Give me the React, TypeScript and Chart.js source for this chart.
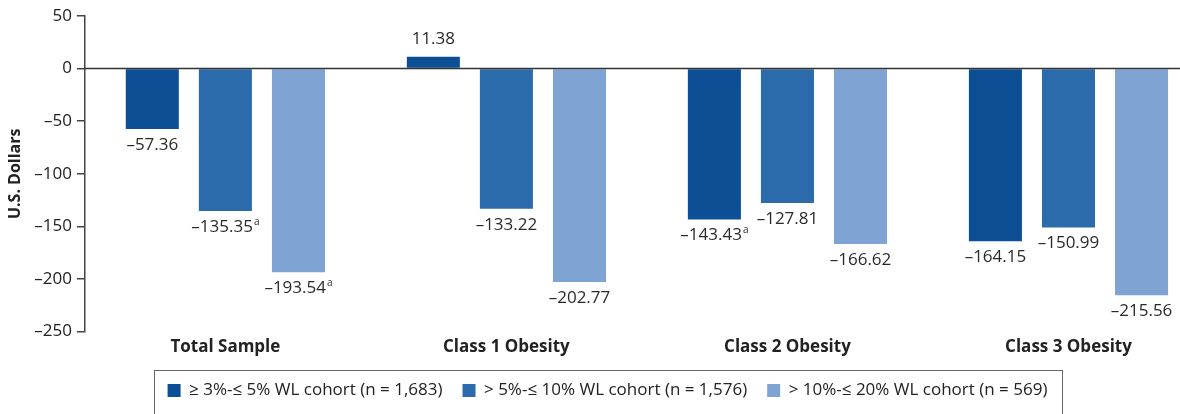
import React, { useEffect, useRef } from "react";
import { Chart, registerables } from "chart.js";

Chart.register(...registerables);

const categories = ["Total Sample", "Class 1 Obesity", "Class 2 Obesity", "Class 3 Obesity"];
const seriesNames = [
  "≥ 3%-≤ 5% WL cohort (n = 1,683)",
  "> 5%-≤ 10% WL cohort (n = 1,576)",
  "> 10%-≤ 20% WL cohort (n = 569)",
];
const cohortLow = [-57.36, 11.38, -143.43, -164.15];
const cohortMid = [-135.35, -133.22, -127.81, -150.99];
const cohortHigh = [-193.54, -202.77, -166.62, -215.56];
const notesLow = ["", "", "a", ""];
const notesMid = ["a", "", "", ""];
const notesHigh = ["a", "", "", ""];
const yMin = -250;
const yMax = 50;
const yStep = 50;

const colors = ["#0d4f94", "#2c6bab", "#7fa4d4"];
const notes = [notesLow, notesMid, notesHigh];
const FONT = "'Open Sans', sans-serif";

const fmt = (v: number) => (v < 0 ? "\u2013" : "") + Math.abs(v).toFixed(2);

const zeroLinePlugin = {
  id: "zeroLine",
  afterDatasetsDraw(chart: any) {
    const y = chart.scales.y.getPixelForValue(0);
    const { left, right } = chart.chartArea;
    const ctx = chart.ctx;
    ctx.save();
    ctx.strokeStyle = "#333";
    ctx.lineWidth = 1.5;
    ctx.beginPath();
    ctx.moveTo(left, y);
    ctx.lineTo(right, y);
    ctx.stroke();
    ctx.restore();
  },
};

const valueLabelPlugin = {
  id: "valueLabels",
  afterDatasetsDraw(chart: any) {
    const ctx = chart.ctx;
    ctx.save();
    chart.data.datasets.forEach((ds: any, di: number) => {
      const meta = chart.getDatasetMeta(di);
      meta.data.forEach((el: any, i: number) => {
        const v = ds.data[i] as number;
        const text = fmt(v);
        const sup = notes[di][i];
        ctx.font = `17px ${FONT}`;
        const w = ctx.measureText(text).width;
        ctx.font = `10px ${FONT}`;
        const sw = sup ? ctx.measureText(sup).width + 1 : 0;
        const total = w + sw;
        const x0 = el.x - total / 2;
        const y = v < 0 ? el.y + 16 : el.y - 17;
        ctx.fillStyle = "#2a2a2a";
        ctx.textBaseline = "middle";
        ctx.textAlign = "left";
        ctx.font = `17px ${FONT}`;
        ctx.fillText(text, x0, y);
        if (sup) {
          ctx.font = `10px ${FONT}`;
          ctx.fillText(sup, x0 + w + 1, y - 5);
        }
      });
    });
    ctx.restore();
  },
};

const legendBoxPlugin = {
  id: "legendBox",
  afterDraw(chart: any) {
    const hb = chart.legend && chart.legend.legendHitBoxes;
    if (!hb || !hb.length) return;
    let l = Infinity;
    let r = -Infinity;
    let t = Infinity;
    hb.forEach((h: any) => {
      l = Math.min(l, h.left);
      r = Math.max(r, h.left + h.width);
      t = Math.min(t, h.top);
    });
    const ctx = chart.ctx;
    ctx.save();
    ctx.strokeStyle = "#666";
    ctx.lineWidth = 1;
    ctx.strokeRect(Math.round(l - 14) + 0.5, Math.round(t - 12) + 0.5, Math.round(r - l + 28), chart.height - t + 20);
    ctx.restore();
  },
};

export default function App() {
  const ref = useRef<HTMLCanvasElement | null>(null);
  useEffect(() => {
    if (!ref.current) return;
    const chart = new Chart(ref.current, {
      type: "bar",
      data: {
        labels: categories,
        datasets: [cohortLow, cohortMid, cohortHigh].map((d, i) => ({
          label: seriesNames[i],
          data: d,
          backgroundColor: colors[i],
          borderWidth: 0,
          categoryPercentage: 0.78,
          barPercentage: 0.726,
        })),
      },
      options: {
        responsive: false,
        animation: false,
        layout: { padding: { top: 16, right: 6, left: 6, bottom: 5 } },
        plugins: {
          tooltip: { enabled: false },
          legend: {
            position: "bottom",
            labels: {
              boxWidth: 13,
              boxHeight: 13,
              padding: 20,
              color: "#222",
              font: { family: FONT, size: 17 },
            },
          },
        },
        scales: {
          x: {
            grid: { display: false },
            border: { display: false },
            ticks: {
              color: "#222",
              padding: -3,
              font: { family: FONT, size: 17, weight: "bold" },
            },
            afterFit: (s: any) => {
              s.height += 8;
            },
          },
          y: {
            min: yMin,
            max: yMax,
            border: { display: true, color: "#444", width: 1.5 },
            grid: { drawOnChartArea: false, drawTicks: true, tickLength: 8, color: "#444", lineWidth: 1.5 },
            ticks: {
              stepSize: yStep,
              color: "#222",
              padding: 5,
              font: { family: FONT, size: 17 },
              callback: (v: any) => (Number(v) < 0 ? "\u2013" + Math.abs(Number(v)) : String(v)),
            },
            title: {
              display: true,
              text: "U.S. Dollars",
              color: "#222",
              padding: { top: 0, bottom: 4 },
              font: { family: FONT, size: 16, weight: "bold" },
            },
          },
        },
      },
      plugins: [zeroLinePlugin, valueLabelPlugin, legendBoxPlugin],
    });
    return () => chart.destroy();
  }, []);
  return (
    <div style={{ position: "absolute", left: 0, top: 0, width: 1180, height: 414, overflow: "hidden", background: "#fff" }}>
      <canvas ref={ref} width={1215} height={414} style={{ width: 1215, height: 414, display: "block" }} />
    </div>
  );
}
